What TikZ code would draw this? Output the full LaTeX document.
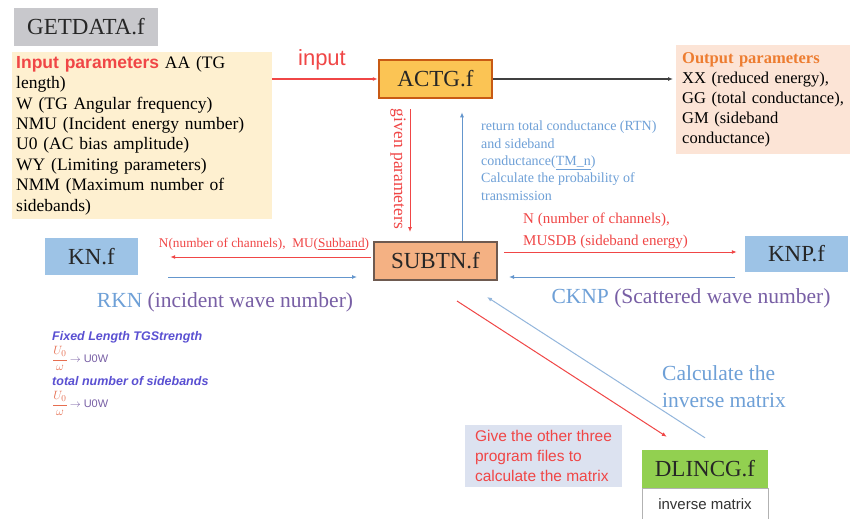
\documentclass[tikz,border=0pt]{standalone}
\usepackage{fontspec}
\usepackage{amsmath}
\setmainfont{Liberation Serif}
\setsansfont{Liberation Sans}
\usetikzlibrary{arrows.meta}
\definecolor{getgray}{RGB}{200,200,204}
\definecolor{inyellow}{RGB}{254,240,208}
\definecolor{actgfill}{RGB}{251,196,84}
\definecolor{actgline}{RGB}{200,90,20}
\definecolor{outpeach}{RGB}{252,228,214}
\definecolor{outorange}{RGB}{237,125,49}
\definecolor{subtnfill}{RGB}{244,177,131}
\definecolor{subtnline}{RGB}{110,90,80}
\definecolor{knblue}{RGB}{157,195,230}
\definecolor{dlgreen}{RGB}{146,208,80}
\definecolor{givefill}{RGB}{220,226,240}
\definecolor{linered}{RGB}{240,70,70}
\definecolor{lineblue}{RGB}{100,150,205}
\definecolor{textblue}{RGB}{110,160,215}
\definecolor{wavepurple}{RGB}{120,95,165}
\definecolor{notepurple}{RGB}{90,80,210}
\definecolor{fracred}{RGB}{230,110,80}
\newcommand{\filefont}{\rmfamily\fontsize{23}{26}\selectfont}
\newcommand{\uow}{\textcolor{wavepurple}{\mdseries\upshape\fontsize{11}{12}\selectfont$\to$ U0W}}

\begin{document}
\begin{tikzpicture}[x=1pt,y=-1pt,>={Latex[length=5pt,width=4pt]},
  filebox/.style={minimum height=38pt,inner sep=0pt,font=\filefont,text=black!85}]
\fill[white] (0,0) rectangle (852,519);
\useasboundingbox (0,0) rectangle (852,519);

\node[filebox,fill=getgray,minimum width=144pt] (getdata) at (86,27) {GETDATA.f};
\node[fill=inyellow,anchor=north west,text width=252pt,inner xsep=4pt,inner ysep=4pt,align=left,font=\rmfamily\fontsize{17.5}{20.4}\selectfont] (inbox) at (12,52)
  {{\sffamily\bfseries\color{linered}Input parameters} AA (TG\\length)\\W (TG Angular frequency)\\NMU (Incident energy number)\\U0 (AC bias amplitude)\\WY (Limiting parameters)\\NMM (Maximum number of\\sidebands)};
\node[filebox,fill=actgfill,draw=actgline,line width=2.5pt,minimum width=113pt] (actg) at (435.5,79) {ACTG.f};
\node[fill=outpeach,anchor=north west,text width=162pt,inner xsep=6pt,inner ysep=7pt,align=left,font=\rmfamily\fontsize{16.5}{20}\selectfont] (outbox) at (676,45)
  {{\bfseries\color{outorange}Output parameters}\\XX (reduced energy),\\GG (total conductance),\\GM (sideband\\conductance)};
\node[filebox,fill=subtnfill,draw=subtnline,line width=2pt,minimum width=123pt] (subtn) at (435.5,261) {SUBTN.f};
\node[filebox,fill=knblue,minimum width=93pt,minimum height=37pt] (kn) at (91.5,256.5) {KN.f};
\node[filebox,fill=knblue,minimum width=103pt,minimum height=36pt] (knp) at (796.5,254) {KNP.f};
\node[filebox,fill=dlgreen,minimum width=126pt] (dlincg) at (705,469) {DLINCG.f};
\node[draw=gray!60,fill=white,anchor=north,minimum width=126pt,minimum height=31pt,inner sep=0pt,font=\sffamily\fontsize{15}{18}\selectfont,text=black!80] (invm) at (dlincg.south) {inverse matrix};
\node[fill=givefill,minimum width=157pt,minimum height=62pt,inner xsep=6pt,align=left,text=linered,font=\sffamily\fontsize{15.5}{20}\selectfont] (give) at (543.5,456) {Give the other three\\program files to\\calculate the matrix};

\draw[linered,line width=1.1pt,->] (inbox.east |- actg.west) -- (actg.west);
\draw[black!75,line width=1.2pt,->,shorten >=3pt] (actg.east) -- (outbox.west |- actg.east);
\draw[linered,line width=1pt,->,shorten <=10pt,shorten >=9pt] ([xshift=-25.5pt]actg.south) -- ([xshift=-25.5pt]subtn.north);
\draw[lineblue,line width=1pt,->,shorten >=13pt] ([xshift=26.5pt]subtn.north) -- ([xshift=26.5pt]actg.south);
\draw[linered,line width=1pt,->,shorten <=2pt,shorten >=32pt] (subtn.west |- 0,257) -- (kn.east |- 0,257);
\draw[lineblue,line width=1pt,->,shorten <=30pt,shorten >=16pt] (kn.east |- 0,277) -- (subtn.west |- 0,277);
\draw[linered,line width=1pt,->,shorten <=6pt,shorten >=8pt] (subtn.east |- 0,252) -- (knp.west |- 0,252);
\draw[lineblue,line width=1pt,->,shorten <=10pt,shorten >=11pt] (knp.west |- 0,277) -- (subtn.east |- 0,277);
\draw[linered,line width=1pt,->] ([xshift=21.5pt,yshift=-20pt]subtn.south) -- ([xshift=25pt,yshift=13pt]dlincg.north west);
\draw[lineblue!70,line width=1pt,->] ([yshift=12pt]dlincg.north) -- ([xshift=51.5pt,yshift=-16pt]subtn.south);

\node[text=linered,font=\sffamily\fontsize{22}{24}\selectfont] (inlabel) at (322,60) {input};
\node[rotate=-90,text=linered,font=\rmfamily\fontsize{17.5}{18}\selectfont] (givenlabel) at (398,169) {given parameters};
\node[anchor=north west,align=left,inner sep=0pt,text=textblue,font=\rmfamily\fontsize{14}{17.3}\selectfont] (retlabel) at (481,121)
  {return total conductance (RTN)\\and sideband\\conductance(\underline{TM\_n})\\Calculate the probability of\\transmission};
\node[text=linered,font=\rmfamily\fontsize{13.3}{15}\selectfont] (mulabel) at (264,244) {N(number of channels),\ \ MU(\underline{Subband})};
\node[anchor=north west,align=left,inner sep=0pt,text=linered,font=\rmfamily\fontsize{15}{22}\selectfont] (muslabel) at (523,213)
  {N (number of channels),\\MUSDB (sideband energy)};
\node[font=\rmfamily\fontsize{21.5}{24}\selectfont] (rknlabel) at (225,302) {\textcolor{textblue}{RKN} \textcolor{wavepurple}{(incident wave number)}};
\node[font=\rmfamily\fontsize{21.5}{24}\selectfont] (cknplabel) at (691,298) {\textcolor{textblue}{CKNP} \textcolor{wavepurple}{(Scattered wave number)}};
\node[anchor=north west,align=left,inner sep=0pt,text=textblue,font=\rmfamily\fontsize{21.5}{27}\selectfont] (invlabel) at (662,365) {Calculate the\\inverse matrix};
\node[anchor=north west,align=left,inner sep=0pt,text=notepurple,font=\sffamily\bfseries\itshape\fontsize{12.5}{22.5}\selectfont] (notes) at (52,331)
  {Fixed Length TGStrength\\\textcolor{fracred}{$\dfrac{U_0}{\omega}$}\,\uow\\total number of sidebands\\\textcolor{fracred}{$\dfrac{U_0}{\omega}$}\,\uow};
\end{tikzpicture}
\end{document}
